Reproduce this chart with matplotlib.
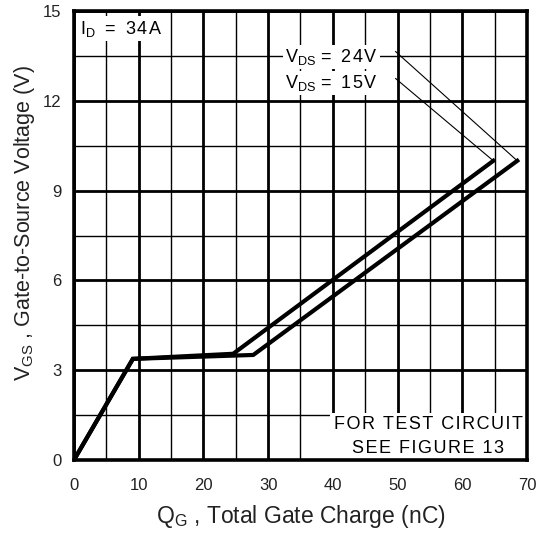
import matplotlib
matplotlib.use("Agg")
import matplotlib.pyplot as plt
from matplotlib.patches import Rectangle

plt.rcParams['font.family'] = ['Liberation Sans', 'DejaVu Sans']
plt.rcParams['mathtext.fontset'] = 'custom'
plt.rcParams['mathtext.rm'] = 'Liberation Sans'
plt.rcParams['mathtext.it'] = 'Liberation Sans'

# gate charge curves (Q_G in nC, V_GS in V)
qg_15v = [0, 9.1, 24.6, 64.8]
vgs_15v = [0, 3.38, 3.55, 10.0]
qg_24v = [0, 9.1, 27.7, 68.5]
vgs_24v = [0, 3.38, 3.51, 10.0]

x_ticks = [0, 10, 20, 30, 40, 50, 60, 70]
y_ticks = [0, 3, 6, 9, 12, 15]


def spaced(s):
    # the datasheet text is set with loose letter spacing
    return '\u200a'.join(s)


fig = plt.figure(figsize=(5.42, 5.33), dpi=100)
ax = fig.add_axes([0.1365, 0.137, 0.8358, 0.842])

ax.set_xlim(0, 70)
ax.set_ylim(0, 15)
ax.set_xticks(x_ticks)
ax.set_yticks(y_ticks)
ax.set_xticks([5, 15, 25, 35, 45, 55, 65], minor=True)
ax.set_yticks([1.5, 4.5, 7.5, 10.5, 13.5], minor=True)
ax.tick_params(which='both', length=0, labelsize=12, colors='#222222')
ax.tick_params(axis='x', pad=13)
ax.tick_params(axis='y', pad=9)

ax.set_axisbelow(True)
ax.grid(which='major', color='black', linewidth=2.0)
ax.grid(which='minor', color='black', linewidth=1.0)
for s in ax.spines.values():
    s.set_linewidth(2.6)

# white box behind the test-circuit note
ax.add_patch(Rectangle((39.6, 0), 30.4, 1.57, facecolor='white', edgecolor='none', zorder=1))

ax.plot(qg_15v, vgs_15v, color='black', linewidth=3, solid_joinstyle='miter', zorder=3)
ax.plot(qg_24v, vgs_24v, color='black', linewidth=3, solid_joinstyle='miter', zorder=3)

# leader lines for the labels
ax.plot([49.7, qg_24v[-1]], [13.65, vgs_24v[-1]], color='black', linewidth=0.8, zorder=3)
ax.plot([49.7, qg_15v[-1]], [12.75, vgs_15v[-1]], color='black', linewidth=0.8, zorder=3)

box = dict(facecolor='white', edgecolor='none', pad=1.5)
ax.text(0.9, 14.25, r'I$_\mathregular{D}$  =  ' + spaced('34A'), fontsize=13,
        va='baseline', bbox=box, zorder=4)
ax.text(32.6, 13.31, r'V$_\mathregular{DS}$ =' + '\u2009' + spaced(' 24V'), fontsize=13,
        va='baseline', bbox=box, zorder=4)
ax.text(32.6, 12.44, r'V$_\mathregular{DS}$ =' + '\u2009' + spaced(' 15V'), fontsize=13,
        va='baseline', bbox=box, zorder=4)
ax.text(54.7, 1.04, spaced('FOR TEST CIRCUIT'), fontsize=13, ha='center', va='baseline', zorder=4)
ax.text(54.7, 0.23, spaced('SEE FIGURE 13'), fontsize=13, ha='center', va='baseline', zorder=4)

ax.set_xlabel(r'Q$_\mathregular{G}$ , Total Gate Charge (nC)', fontsize=16.5, color='#222222')
ax.set_ylabel(r'V$_\mathregular{GS}$ , Gate-to-Source Voltage (V)', fontsize=15.5, color='#222222')
ax.xaxis.set_label_coords(0.5, -0.096)
ax.yaxis.set_label_coords(-0.082, 0.528)
ax.xaxis.label.set_va('top')

fig.savefig('out.png', dpi=100)
